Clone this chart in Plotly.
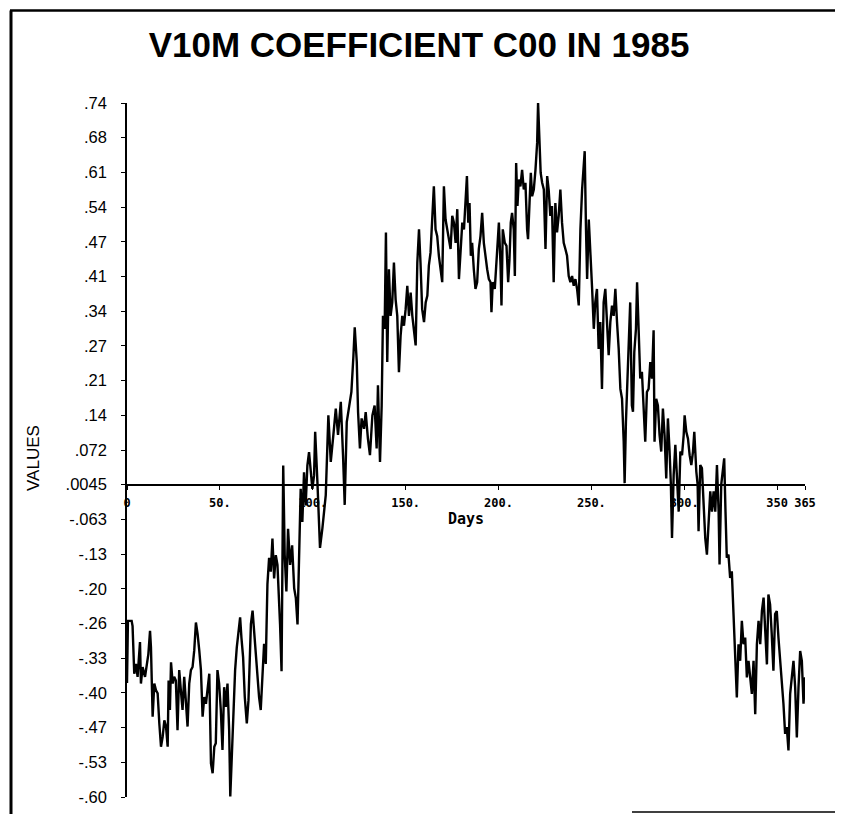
import numpy as np
import plotly.graph_objects as go

# ---- data ----
days = [
    0, 0.5, 2.5, 3.0, 3.9, 4.8, 5.7, 7.0, 7.5, 8.4, 9.7, 10.6, 11.5, 12.4, 12.9, 13.8, 14.7, 15.6, 16.5, 17.4,
    18.3, 19.2, 20.1, 21.0, 21.9, 22.4, 23.1, 23.7, 24.6, 25.4, 26.3, 27.2, 28.1, 29.0, 29.9, 30.8, 31.7, 32.6,
    33.5, 34.4, 35.3, 36.2, 37.1, 38.0, 38.9, 39.8, 40.7, 41.6, 42.5, 43.4, 44.3, 45.2, 46.1, 47.0, 47.8, 48.7,
    49.6, 50.5, 51.4, 52.3, 53.2, 54.1, 55.0, 55.6, 56.5, 57.3, 58.2, 59.1, 60.0, 60.9, 61.6, 62.5, 63.4, 64.5,
    65.4, 66.7, 67.6, 68.5, 69.4, 70.3, 71.1, 72.0, 72.9, 73.8, 74.7, 75.6, 76.5,
    77.4, 78.3, 79.2, 80.1, 81.0, 82.4, 83.2, 84.1, 84.9, 85.8, 86.7, 87.8, 88.9, 90.0, 90.9, 91.8, 92.7, 93.5,
    94.4, 95.3, 96.2, 97.1, 98.0, 98.9, 99.8, 100.7,
    101.3, 102.5, 103.9, 105.2, 107.0, 108.4, 109.7, 111.1, 112.4, 113.6, 115.1, 116.3, 117.2, 118.3, 119.5,
    120.8, 121.9, 122.6, 123.7, 124.4, 125.4, 126.3, 127.6, 128.5, 129.7, 130.8, 132.1, 133.3, 134.4, 135.1,
    136.2, 137.1, 137.8, 138.7, 139.4, 140.1, 141.0, 141.9, 142.8, 143.7, 144.6, 145.5, 146.4, 147.3, 148.2,
    149.1, 150.0, 150.9, 151.8, 152.7, 153.6, 154.5, 155.4, 156.3, 157.2, 158.0, 158.9, 159.9, 160.8, 161.7,
    162.5, 163.4, 164.3, 165.2, 166.1, 167.0, 167.9, 168.8, 169.7, 170.6, 171.5, 172.4, 173.3, 174.2, 175.1,
    176.0, 176.9,
    177.8, 178.7, 179.6, 180.5, 181.4, 182.3, 183.0, 183.7, 184.4, 185.1, 185.8, 186.7, 187.6, 188.5, 189.4,
    190.3, 191.2, 192.1, 193.0, 193.9, 194.8, 195.7, 196.2, 196.9, 198.0, 199.3, 200.2, 201.1, 201.6, 202.3,
    203.4, 204.3, 205.2, 205.9, 206.6, 207.3, 208.2, 208.8, 209.5, 210.2, 210.9, 211.8, 212.7, 213.6, 214.5,
    215.4, 215.9, 216.7, 217.4, 218.1, 219.0, 219.9, 220.8, 221.3, 222.0, 222.7, 223.5, 224.4, 225.3, 226.2,
    227.0, 227.9, 228.8, 229.7, 230.6, 231.5, 232.4, 233.3, 234.2, 235.1, 236.0, 236.9, 237.8, 238.7, 239.6,
    240.5, 241.4, 242.3, 243.2, 244.1, 245.0, 245.9, 246.4, 247.1, 247.7, 248.6, 249.5, 250.4, 251.3, 252.1,
    253.0, 253.9, 254.8, 255.7, 256.6, 257.5, 258.4, 259.3, 260.2, 261.1, 262.0, 262.9, 263.8, 264.7, 265.6,
    266.5, 267.4, 267.9, 268.6, 269.7, 270.9, 271.8,
    272.4, 273.1, 274.0, 274.6, 275.4, 276.3, 277.2, 278.1, 279.0, 279.9, 280.8, 281.7, 282.6, 283.5, 284.0,
    284.9, 285.8, 286.7, 287.6, 288.5, 289.4, 290.3, 291.2, 292.1, 292.8, 293.4, 294.3, 295.2, 296.1, 297.0,
    297.9, 298.8, 299.7, 300.2, 301.1, 302.0, 302.9, 303.8, 304.7, 305.4, 306.5, 307.2, 307.7, 308.6, 309.5,
    310.4, 311.3, 312.2, 313.1, 314.0, 314.9, 315.8, 316.7, 317.6, 318.5, 319.0, 319.9, 320.8, 321.5, 322.2,
    322.9, 323.8, 324.7, 325.6, 326.1, 326.9, 327.6, 328.3, 329.2, 330.1, 331.0, 331.9, 332.8, 333.7, 334.6,
    335.5, 336.4, 337.3, 338.2, 339.1, 340.0, 340.9, 341.8, 342.7, 343.6, 344.5, 345.3, 346.2, 347.1, 348.0,
    348.9, 349.8, 350.7, 351.6, 352.5, 353.4, 354.3, 355.2, 356.1, 357.0, 357.9, 358.8, 359.7, 360.6, 361.5,
    362.4, 363.3, 364.2, 365.0,
]

values = [
    -0.38, -0.26, -0.26, -0.27, -0.362, -0.343, -0.368, -0.301, -0.381, -0.349, -0.368, -0.343, -0.324, -0.279,
    -0.311, -0.445, -0.381, -0.394, -0.40, -0.458, -0.503, -0.484, -0.452, -0.464, -0.503, -0.375, -0.432,
    -0.340, -0.381, -0.368, -0.375, -0.471, -0.355, -0.394, -0.432, -0.368, -0.426, -0.464, -0.381, -0.355,
    -0.349, -0.317, -0.263, -0.285, -0.317, -0.355, -0.445, -0.407, -0.420, -0.394, -0.362, -0.535, -0.554,
    -0.503, -0.496, -0.355, -0.381, -0.432, -0.509, -0.388, -0.426, -0.381, -0.471, -0.599, -0.516, -0.458,
    -0.355, -0.311, -0.279, -0.253, -0.292, -0.330, -0.407, -0.458, -0.413, -0.266, -0.240, -0.285, -0.317,
    -0.381, -0.407, -0.432, -0.368, -0.304, -0.343, -0.189, -0.138,
    -0.165, -0.101, -0.178, -0.133, -0.152, -0.267, -0.357, 0.040, -0.133, -0.203, -0.082, -0.152, -0.114,
    -0.197, -0.216, -0.267, -0.146, -0.005, -0.069, 0.027, -0.037, 0.040, 0.066, 0.034, -0.005, 0.021,
    0.105, 0.009, -0.119, -0.081, -0.017, 0.137, 0.047, 0.099, 0.150, 0.099, 0.163, 0.060, -0.036, 0.124,
    0.156, 0.182, 0.252, 0.307, 0.240, 0.143, 0.073, 0.131, 0.111, 0.143, 0.092, 0.060, 0.137, 0.156, 0.073,
    0.195, 0.047, 0.156, 0.329, 0.304, 0.490, 0.240, 0.419, 0.329, 0.355, 0.432, 0.361, 0.329, 0.220, 0.291,
    0.329, 0.310, 0.342, 0.387, 0.329, 0.374, 0.329, 0.304, 0.272, 0.432, 0.496, 0.432, 0.342, 0.317, 0.355,
    0.368, 0.426, 0.451, 0.522, 0.579, 0.496, 0.483, 0.445, 0.419, 0.394, 0.579, 0.515, 0.496, 0.477, 0.458,
    0.522, 0.509, 0.470,
    0.535, 0.400, 0.464, 0.509, 0.496, 0.573, 0.599, 0.509, 0.547, 0.445, 0.470, 0.419, 0.381, 0.394, 0.458,
    0.483, 0.528, 0.470, 0.438, 0.419, 0.400, 0.394, 0.336, 0.394, 0.381, 0.458, 0.509, 0.426, 0.349, 0.496,
    0.470, 0.464, 0.394, 0.438, 0.509, 0.528, 0.496, 0.406, 0.624, 0.541, 0.592, 0.579, 0.611, 0.573, 0.586,
    0.496, 0.477, 0.547, 0.605, 0.560, 0.573, 0.611, 0.663, 0.740, 0.663, 0.605, 0.586, 0.573, 0.458, 0.599,
    0.573, 0.522, 0.541, 0.394, 0.547, 0.490, 0.522, 0.573, 0.509, 0.470, 0.458, 0.445, 0.406, 0.394, 0.406,
    0.387, 0.400, 0.381, 0.349, 0.496, 0.573, 0.618, 0.647, 0.496, 0.400, 0.515, 0.432, 0.381, 0.304, 0.355,
    0.381, 0.265, 0.317, 0.188, 0.355, 0.381, 0.317, 0.253, 0.317, 0.349, 0.329, 0.381, 0.317, 0.265, 0.188,
    0.169, 0.086, 0.006, 0.124, 0.240, 0.355, 0.156,
    0.144, 0.259, 0.304, 0.394, 0.304, 0.208, 0.221, 0.144, 0.086, 0.182, 0.188, 0.240, 0.208, 0.301, 0.086,
    0.169, 0.156, 0.099, 0.067, 0.150, 0.099, 0.015, 0.131, 0.067, 0.003, -0.100, 0.022, 0.080, 0.003, -0.049,
    0.067, 0.060, 0.099, 0.137, 0.105, 0.092, 0.060, 0.041, 0.067, 0.105, 0.028, 0.003, -0.087, 0.041, 0.035,
    -0.049, -0.100, -0.132, -0.062, -0.010, -0.049, -0.010, -0.049, 0.041, -0.049, -0.151, 0.003, 0.041, 0.054,
    -0.049, -0.138, -0.132, -0.177, -0.164, -0.215, -0.273, -0.337, -0.408, -0.305, -0.337, -0.260, -0.305,
    -0.292, -0.369, -0.337, -0.369, -0.401, -0.337, -0.440, -0.305, -0.260, -0.305, -0.241, -0.215, -0.273,
    -0.344, -0.209, -0.228, -0.286, -0.356, -0.247, -0.241, -0.292, -0.331, -0.369, -0.420, -0.478, -0.465,
    -0.510, -0.401, -0.369, -0.337, -0.388, -0.485, -0.388, -0.318, -0.337, -0.420, -0.369,
]

y_ticktext = [".74", ".68", ".61", ".54", ".47", ".41", ".34", ".27", ".21", ".14", ".072", ".0045",
              "-.063", "-.13", "-.20", "-.26", "-.33", "-.40", "-.47", "-.53", "-.60"][::-1]
x_tickvals = [0, 50, 100, 150, 200, 250, 300, 350, 365]
x_ticktext = ["0", "50.", "100.", "150.", "200.", "250.", "300.", "350", "365"]

y_min, y_max = -0.60, 0.74
x_min, x_max = 0, 365
y_tickvals = list(np.linspace(y_min, y_max, len(y_ticktext)))
cross_index = y_ticktext.index(".0045")
x_axis_pos = cross_index / (len(y_ticktext) - 1)

fig = go.Figure()
fig.add_trace(go.Scatter(
    x=days, y=values, mode="lines",
    line=dict(color="black", width=2.4),
    showlegend=False, hoverinfo="skip",
))

# page has an 8px body margin; lay out in page pixels and shift
OFF = 8
W, H = 843 - OFF, 818 - OFF
L = 127 - OFF
T = 103 - OFF
R = W - (805 - OFF)
B = H - (801 - OFF)
pw, ph = W - L - R, H - T - B


def px(x_page):
    return (x_page - OFF - L) / pw


def py(y_page):
    return (H - B - (y_page - OFF)) / ph


fig.update_layout(
    width=W, height=H,
    margin=dict(l=L, r=R, t=T, b=B),
    paper_bgcolor="white", plot_bgcolor="white",
    title=dict(
        text="<b>V10M COEFFICIENT C00 IN 1985</b>",
        font=dict(family="Liberation Sans, Arial, sans-serif", size=35, color="black"),
        x=(419 - OFF) / W, xanchor="center", y=1 - (45 - OFF) / H, yanchor="middle",
    ),
    xaxis=dict(
        range=[x_min, x_max],
        anchor="free", position=x_axis_pos,
        showline=True, linecolor="black", linewidth=1.6,
        showgrid=False, zeroline=False,
        ticks="outside", ticklen=4, tickwidth=1.4, tickcolor="black",
        tickmode="array", tickvals=x_tickvals, ticktext=x_ticktext,
        tickfont=dict(family="DejaVu Sans Mono, monospace", size=12, color="black", weight="bold"),
        tickangle=0, ticklabelstandoff=3,
        title=dict(text="Days", standoff=3,
                   font=dict(family="DejaVu Sans Mono, monospace", size=15, color="black", weight="bold")),
    ),
    yaxis=dict(
        range=[y_min, y_max],
        showline=True, linecolor="black", linewidth=1.6,
        showgrid=False, zeroline=False,
        ticks="outside", ticklen=4, tickwidth=1.4, tickcolor="black",
        tickmode="array", tickvals=y_tickvals, ticktext=y_ticktext,
        tickfont=dict(family="Liberation Sans, Arial, sans-serif", size=16.5, color="black"),
        ticklabelstandoff=11,
    ),
    annotations=[dict(
        text="VALUES", textangle=-90, showarrow=False,
        xref="paper", yref="paper", x=px(34), y=py(460),
        xanchor="center", yanchor="middle",
        font=dict(family="Liberation Sans, Arial, sans-serif", size=17, color="black"),
    )],
    shapes=[
        dict(type="line", xref="paper", yref="paper", x0=px(10), x1=px(843), y0=py(10), y1=py(10),
             line=dict(color="black", width=2.5)),
        dict(type="line", xref="paper", yref="paper", x0=px(11), x1=px(11), y0=py(10), y1=py(818),
             line=dict(color="black", width=3)),
        dict(type="line", xref="paper", yref="paper", x0=px(840), x1=px(840), y0=py(10), y1=py(815),
             line=dict(color="black", width=1.5)),
        dict(type="line", xref="paper", yref="paper", x0=px(632), x1=px(843), y0=py(816), y1=py(816),
             line=dict(color="black", width=1.5)),
    ],
)

fig.write_html("out.html", config={"displayModeBar": False})
